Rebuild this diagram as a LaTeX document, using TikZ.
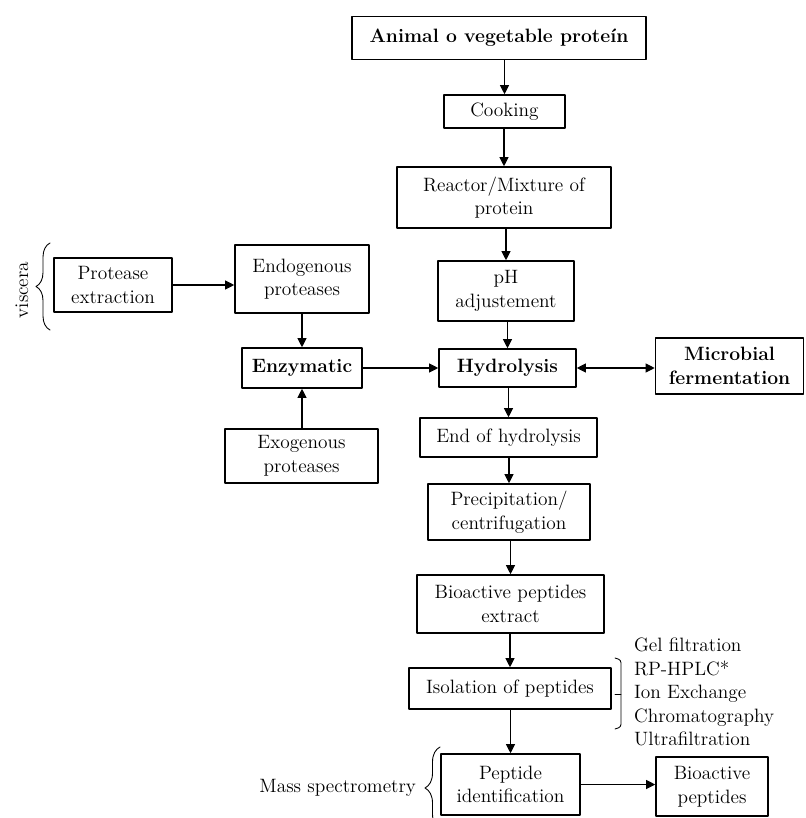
\documentclass[tikz,border=0pt]{standalone}
\usepackage{fontspec}
\usetikzlibrary{arrows.meta}
\usetikzlibrary{decorations.pathreplacing}

\begin{document}
\begin{tikzpicture}[line cap=round,line join=round,x=0.02cm,y=-0.02cm,
  >={Triangle[length=5.2pt,width=5.2pt]},
  font=\fontsize{11}{13.4}\selectfont,
  box/.style={draw,line width=0.9pt,align=center,inner sep=1pt},
  wh/.style 2 args={minimum width=#1*0.02cm,minimum height=#2*0.02cm},
  flow/.style={->,line width=0.6pt},
  brc/.style={decorate,decoration={brace,amplitude=#1*0.02cm},line width=0.5pt},
  brk/.style={line width=0.5pt,rounded corners=1.5pt}]
\useasboundingbox (0,0) rectangle (805,818);
% main line
\node[box,wh={294}{43}] (prot) at (499,38) {\bfseries Animal o vegetable proteín};
\node[box,wh={121}{33}] (cook) at (504.5,111.5) {Cooking};
\node[box,wh={214}{61}] (react) at (504,197.5) {Reactor/Mixture of\\protein};
\node[box,wh={136}{60}] (ph) at (506,291) {pH\\adjustement};
\node[box,wh={137}{38}] (hydro) at (507.5,368) {\bfseries Hydrolysis};
\node[box,wh={148}{56}] (micro) at (729.5,366) {\bfseries Microbial\\\bfseries fermentation};
\node[box,wh={177}{39}] (end) at (508.5,437.5) {End of hydrolysis};
\node[box,wh={162}{56}] (prec) at (509,512) {Precipitation/\\centrifugation};
\node[box,wh={187}{58}] (extr) at (510.5,604) {Bioactive peptides\\extract};
\node[box,wh={202}{41}] (iso) at (510,688.5) {Isolation of peptides};
\node[box,wh={139}{61}] (pid) at (510.5,784.5) {Peptide\\identification};
\node[box,wh={112}{59}] (bio) at (712,786.5) {Bioactive\\peptides};
% enzymes
\node[box,wh={118}{54}] (protx) at (113,285) {Protease\\extraction};
\node[box,wh={134}{68}] (endo) at (302,279) {Endogenous\\proteases};
\node[box,wh={120}{40}] (enz) at (302,368) {\bfseries Enzymatic};
\node[box,wh={153}{54}] (exo) at (301.5,456) {Exogenous\\proteases};
% side texts
\node[rotate=90] (visc) at (22,290) {viscera};
\node[anchor=east,inner sep=1pt] (ms) at (418,788) {Mass spectrometry};
\node[anchor=west,align=left,inner sep=1pt] (tech) at (632,692) {Gel filtration\\RP-HPLC*\\Ion Exchange\\Chromatography\\Ultrafiltration};
\draw[brc=14] (50,330) -- (50,243);
\draw[brc=15] (440,829) -- (440,747);
\draw[brk] (615,658) -- (621,660) -- (621,727) -- (615,729);
\draw[brk] (621,694) -- (615,694);
% arrows
\draw[flow] (cook.north |- prot.south) -- (cook.north);
\draw[flow] (react.north |- cook.south) -- (react.north);
\draw[flow] (ph.north |- react.south) -- (ph.north);
\draw[flow] (hydro.north |- ph.south) -- (hydro.north);
\draw[flow] (end.north |- hydro.south) -- (end.north);
\draw[flow] (prec.north |- end.south) -- (prec.north);
\draw[flow] (extr.north |- prec.south) -- (extr.north);
\draw[flow] (iso.north |- extr.south) -- (iso.north);
\draw[flow] (pid.north |- iso.south) -- (pid.north);
\draw[flow] (pid.east) -- (pid.east -| bio.west);
\draw[flow] (protx.east) -- (protx.east -| endo.west);
\draw[flow] (endo.south) -- (enz.north);
\draw[flow] (enz.south |- exo.north) -- (enz.south);
\draw[flow] (enz.east) -- (hydro.west);
\draw[flow,<->] (hydro.east) -- (hydro.east -| micro.west);
\end{tikzpicture}
\end{document}
